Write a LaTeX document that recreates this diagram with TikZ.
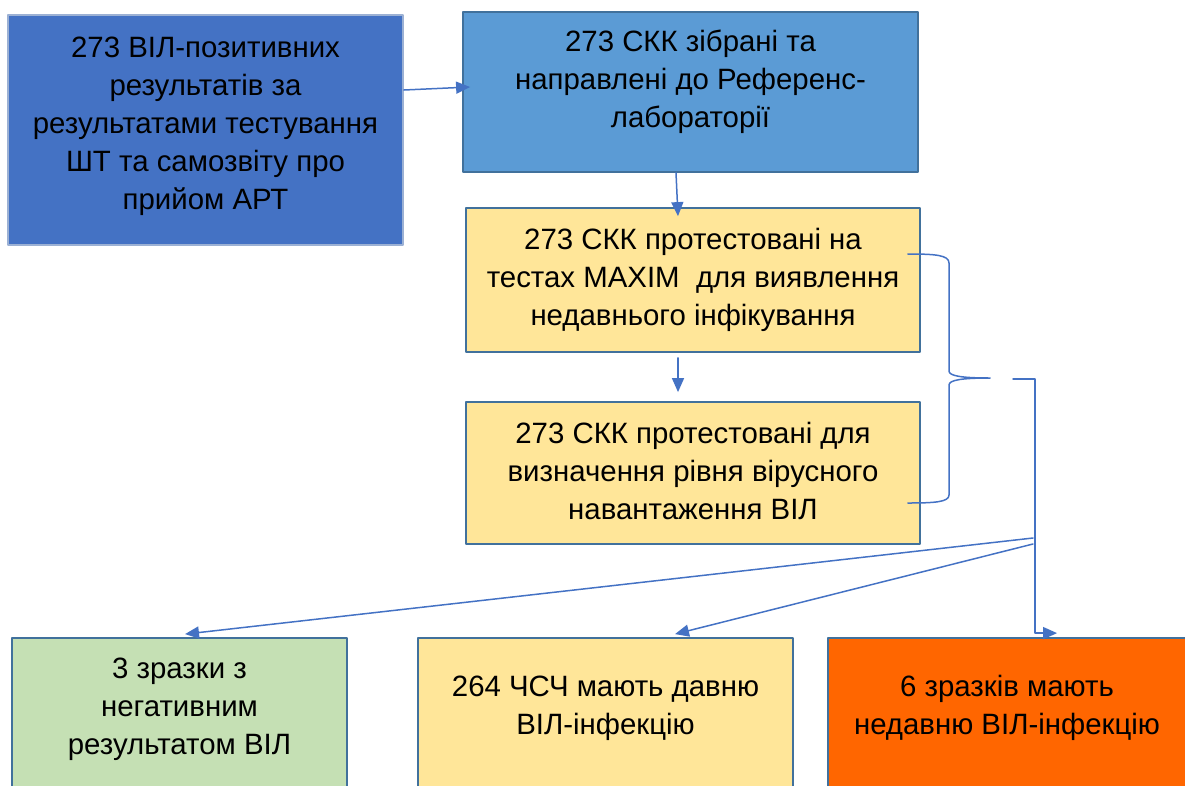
\documentclass[tikz,border=0pt]{standalone}
\usepackage{fontspec}
\setmainfont{Liberation Sans}
\usepackage{tikz}
\usetikzlibrary{arrows.meta}

\definecolor{ArtBlue}{HTML}{4472C4}
\definecolor{SkyBlue}{HTML}{5B9BD5}
\definecolor{Frame}{HTML}{41719C}
\definecolor{PaleFrame}{HTML}{9CB1D4}
\definecolor{Cream}{HTML}{FFE699}
\definecolor{Sage}{HTML}{C5E0B4}
\definecolor{Flame}{HTML}{FF6600}

\begin{document}
\begin{tikzpicture}[
    x=1pt, y=-1pt,
    >={Triangle[length=14pt, width=12pt]},
    line cap=round,
    line join=round,
    box/.style={draw=Frame, line width=1.8pt, inner sep=0pt},
    txt/.style={align=center, inner sep=0pt, font=\fontsize{29.4}{38}\selectfont},
    link/.style={draw=ArtBlue, line width=1.5pt, ->},
    brace/.style={draw=ArtBlue, line width=1.5pt}
]

\useasboundingbox (0,0) rectangle (1185,785);
\clip (0,0) rectangle (1185,785);

% upper chain
\node[box, fill=ArtBlue, draw=PaleFrame, minimum width=395pt, minimum height=230pt,
    label={[txt, yshift=4pt]center:{273 ВІЛ-позитивних\\результатів за\\результатами тестування\\ШТ та самозвіту про\\прийом АРТ}}] (selftest) at (205.5,130) {};
\node[box, fill=SkyBlue, minimum width=455pt, minimum height=160pt,
    label={[txt, yshift=10pt]center:{273 СКК зібрані та\\направлені до Референс-\\лабораторії}}] (sent) at (690.5,92) {};
\node[box, fill=Cream, minimum width=454pt, minimum height=144pt,
    label={[txt, yshift=0pt]center:{273 СКК протестовані на\\тестах MAXIM\ \ для виявлення\\недавнього інфікування}}] (maxim) at (693,280) {};
\node[box, fill=Cream, minimum width=454pt, minimum height=142pt,
    label={[txt, yshift=2pt]center:{273 СКК протестовані для\\визначення рівня вірусного\\навантаження ВІЛ}}] (viral) at (693,473) {};

% results
\node[box, fill=Sage, minimum width=335pt, minimum height=202pt,
    label={[txt, yshift=30pt]center:{3 зразки з\\негативним\\результатом ВІЛ}}] (negative) at (179.5,739) {};
\node[box, fill=Cream, minimum width=375pt, minimum height=202pt,
    label={[txt, yshift=31pt]center:{264 ЧСЧ мають давню\\ВІЛ-інфекцію}}] (longterm) at (605.5,739) {};
\node[box, fill=Flame, minimum width=362pt, minimum height=202pt,
    label={[txt, yshift=31pt, xshift=-2pt]center:{6 зразків мають\\недавню ВІЛ-інфекцію}}] (recent) at (1009,739) {};

\draw[link] ([yshift=40pt]selftest.east) -- ([xshift=8pt, yshift=5pt]sent.west);
\draw[link] ([xshift=-14.5pt]sent.south) -- ([xshift=-15pt, yshift=-9pt]maxim.north);
\draw[link] ([xshift=-15pt, yshift=-5pt]maxim.south) -- ([xshift=-15pt, yshift=9pt]viral.north);

% brace over the two tests
\coordinate (braceTop) at ([xshift=-13pt, yshift=26pt]maxim.east);
\coordinate (braceBot) at ([xshift=-13pt, yshift=-30pt]viral.east);
\coordinate (braceTip) at (990,378);
\draw[brace] (braceTop) .. controls (935,254) and (949,255) .. (949,263)
    -- (949,371) .. controls (949,376) and (962,378) .. (braceTip)
    .. controls (962,378) and (949,380) .. (949,385)
    -- (949,495) .. controls (949,502) and (935,503) .. (braceBot);

% split to the results
\coordinate (gap) at (1013,379);
\coordinate (bend) at (1035,379);
\coordinate (fanA) at (1033,538);
\coordinate (fanB) at (1033,544);
\draw[link] (gap) -- (bend) |- ([xshift=230pt, yshift=4pt]recent.north west);
\draw[link] (fanA) -- ([xshift=5.5pt, yshift=3pt]negative.north);
\draw[link] (fanB) -- ([xshift=69.5pt, yshift=3pt]longterm.north);

\end{tikzpicture}
\end{document}
